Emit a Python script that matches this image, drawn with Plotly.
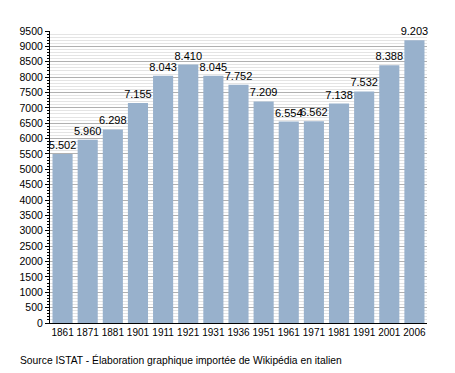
import plotly.graph_objects as go

years = ["1861", "1871", "1881", "1901", "1911", "1921", "1931", "1936",
         "1951", "1961", "1971", "1981", "1991", "2001", "2006"]
population = [5502, 5960, 6298, 7155, 8043, 8410, 8045, 7752,
              7209, 6554, 6562, 7138, 7532, 8388, 9203]
labels = [f"{v:,}".replace(",", ".") for v in population]

fig = go.Figure(go.Bar(
    x=years, y=population, text=labels, textposition="outside",
    marker=dict(color="#98b1cc", line=dict(width=0)),
    textfont=dict(size=11, color="#000"),
    constraintext="none",
    cliponaxis=False,
))

fig.update_layout(
    width=455, height=373,
    margin=dict(l=50, r=28, t=31, b=50),
    paper_bgcolor="white", plot_bgcolor="white",
    bargap=0.2,
    font=dict(family="Liberation Sans, Arial, sans-serif", color="#000", size=10),
    showlegend=False,
    annotations=[dict(
        text="Source ISTAT - Élaboration graphique importée de Wikipédia en italien",
        xref="paper", yref="paper", x=-0.086, y=-0.127, xanchor="left", yanchor="middle",
        showarrow=False, font=dict(size=10.3, color="#000"))],
)
fig.update_xaxes(
    type="category", showline=True, linecolor="#000", linewidth=1,
    ticks="", tickfont=dict(size=10), tickangle=0, showgrid=False,
)
fig.update_yaxes(
    range=[0, 9500], dtick=500, showline=True, linecolor="#000", linewidth=1,
    ticks="outside", ticklen=4, tickcolor="#000", tickfont=dict(size=10.5),
    showgrid=True, gridcolor="#b0b0b0", gridwidth=1, zeroline=False,
    minor=dict(dtick=100, showgrid=True, gridcolor="#e4e4e4", ticks="outside",
               ticklen=2, tickcolor="#000"),
)

fig.write_html("out.html", config={"displayModeBar": False},
               post_script="document.body.style.margin='0';")
